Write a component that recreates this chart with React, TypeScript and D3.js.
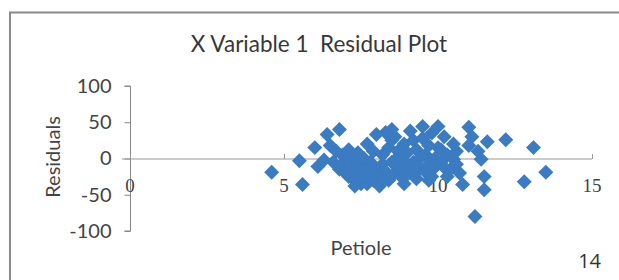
import React, { useEffect, useRef } from "react";
import * as d3 from "d3";

// petiole length (x) and residual (y)
const petiole = [
  4.6, 5.5, 5.6, 6.0, 6.1, 6.4, 6.8, 6.5, 6.3,
  6.6, 6.7, 6.8, 6.9, 7.0, 6.9, 7.0,
  7.1, 7.2, 7.2, 7.3, 7.3, 7.4, 7.4, 7.5, 7.5, 7.1, 7.3,
  7.6, 7.6, 7.7, 7.7, 7.8, 7.8, 7.9, 7.9, 8.0, 8.0, 7.7,
  8.1, 8.1, 8.2, 8.2, 8.3, 8.3, 8.4, 8.4, 8.5, 8.5, 8.5,
  8.6, 8.6, 8.7, 8.7, 8.8, 8.8, 8.9, 8.9, 9.0, 9.0,
  9.1, 9.1, 9.2, 9.2, 9.3, 9.3, 9.4, 9.4, 9.5, 9.5,
  9.6, 9.6, 9.7, 9.7, 9.8, 9.8, 9.9, 9.9, 10.0, 10.0,
  10.1, 10.1, 10.2, 10.3, 10.3, 10.4, 10.5, 10.5, 10.6, 10.7, 10.8, 10.6,
  11.0, 11.1, 11.2, 11.4, 11.5, 11.5, 11.6, 12.2, 12.8, 13.1, 13.5, 11.3, 11.0,
  7.4, 7.6, 7.9, 8.2, 8.6, 9.0, 9.3, 9.7, 10.2, 8.8,
];
const residuals = [
  -19, -3, -36, 15, -11, 33, 40, 18, -2,
  -5, 10, -15, 5, -20, -8, 0,
  -25, -10, 5, -30, -18, -5, 8, -35, -22, 12, -38,
  -12, 0, -28, -35, -20, -5, 10, -30, -15, 33, 20,
  -38, -25, -8, 5, 36, -18, 15, -30, 40, -5, 25,
  -20, 30, -12, 10, 0, -25, -35, 20, -8, 8,
  -18, 38, -5, 25, -28, 12, 0, -15, 44, 28,
  -19, 5, -8, 18, -25, 35, 0, -12, 44, 15,
  12, -5, 30, -25, 5, -15, -1, 20, -8, -20, -36, 10,
  43, 30, -80, -1, -25, -43, 23, 26, -32, 15, -19, 10, 18,
  -14, -24, -10, -32, -2, -22, -10, -30, -12, -16,
];
const xTicks = [0, 5, 10, 15];
const yTicks = [100, 50, 0, -50, -100];

const sans = "Lato, 'Open Sans', sans-serif";

export default function App() {
  const ref = useRef<SVGSVGElement>(null);

  useEffect(() => {
    const svg = d3.select(ref.current);
    svg.selectAll("*").remove();

    const x = d3.scaleLinear().domain([0, 15]).range([130, 592]);
    const y = d3.scaleLinear().domain([-100, 100]).range([231, 86]);

    // chart frame (cut off at right and bottom)
    svg
      .append("rect")
      .attr("x", 10)
      .attr("y", 12.5)
      .attr("width", 700)
      .attr("height", 400)
      .attr("fill", "#fff")
      .attr("stroke", "#8a8a8a")
      .attr("stroke-width", 2);

    svg
      .append("text")
      .attr("x", 319)
      .attr("y", 52)
      .attr("text-anchor", "middle")
      .attr("font-family", sans)
      .attr("font-size", 22.5)
      .attr("fill", "#383838")
      .style("white-space", "pre")
      .text("X Variable 1  Residual Plot");

    // y axis
    const yAxis = svg.append("g").attr("transform", "translate(130.5,0)");
    yAxis.call(
      d3
        .axisLeft(y)
        .tickValues(yTicks)
        .tickSize(6)
        .tickPadding(13)
        .tickFormat((d) => String(d))
    );
    yAxis.select(".domain").attr("stroke", "#888").attr("d", `M-6,${y(100)}H0V${y(-100)}H-6`);
    yAxis.selectAll(".tick line").attr("stroke", "#888");
    yAxis
      .selectAll(".tick text")
      .attr("font-family", sans)
      .attr("font-size", 20)
      .attr("fill", "#444");

    // x axis at y = 0
    const xAxis = svg.append("g").attr("transform", `translate(0,${y(0) + 0.5})`);
    xAxis.call(d3.axisTop(x).tickValues(xTicks).tickSize(5).tickFormat(() => ""));
    xAxis.select(".domain").attr("stroke", "#999").attr("d", `M122,0H${x(15)}`);
    xAxis.selectAll(".tick line").attr("stroke", "#999");

    svg
      .append("g")
      .selectAll("text")
      .data(xTicks)
      .enter()
      .append("text")
      .attr("x", (d) => x(d))
      .attr("y", y(0) + 33)
      .attr("text-anchor", "middle")
      .attr("font-family", "'Liberation Serif', 'DejaVu Serif', serif")
      .attr("font-size", 19)
      .attr("fill", "#444")
      .text((d) => String(d));

    svg
      .append("text")
      .attr("transform", "translate(60,157) rotate(-90)")
      .attr("text-anchor", "middle")
      .attr("font-family", sans)
      .attr("font-size", 20)
      .attr("fill", "#444")
      .text("Residuals");

    svg
      .append("text")
      .attr("x", 361)
      .attr("y", 255)
      .attr("text-anchor", "middle")
      .attr("font-family", sans)
      .attr("font-size", 20)
      .attr("fill", "#444")
      .text("Petiole");

    svg
      .append("text")
      .attr("x", 601)
      .attr("y", 268)
      .attr("text-anchor", "end")
      .attr("font-family", "'Open Sans', sans-serif")
      .attr("font-size", 20)
      .attr("fill", "#333")
      .text("14");

    // points
    const pts = petiole.map((p, i) => ({ p, r: residuals[i] }));
    const diamond = d3.symbol().type(d3.symbolSquare).size(112);
    svg
      .append("g")
      .selectAll("path")
      .data(pts)
      .enter()
      .append("path")
      .attr("d", diamond() as string)
      .attr("transform", (d) => `translate(${x(d.p)},${y(d.r)}) rotate(45)`)
      .attr("fill", "#3a7bc1");
  }, []);

  return (
    <svg
      ref={ref}
      width={619}
      height={280}
      style={{ position: "absolute", left: 0, top: 0, background: "#fff" }}
    />
  );
}
